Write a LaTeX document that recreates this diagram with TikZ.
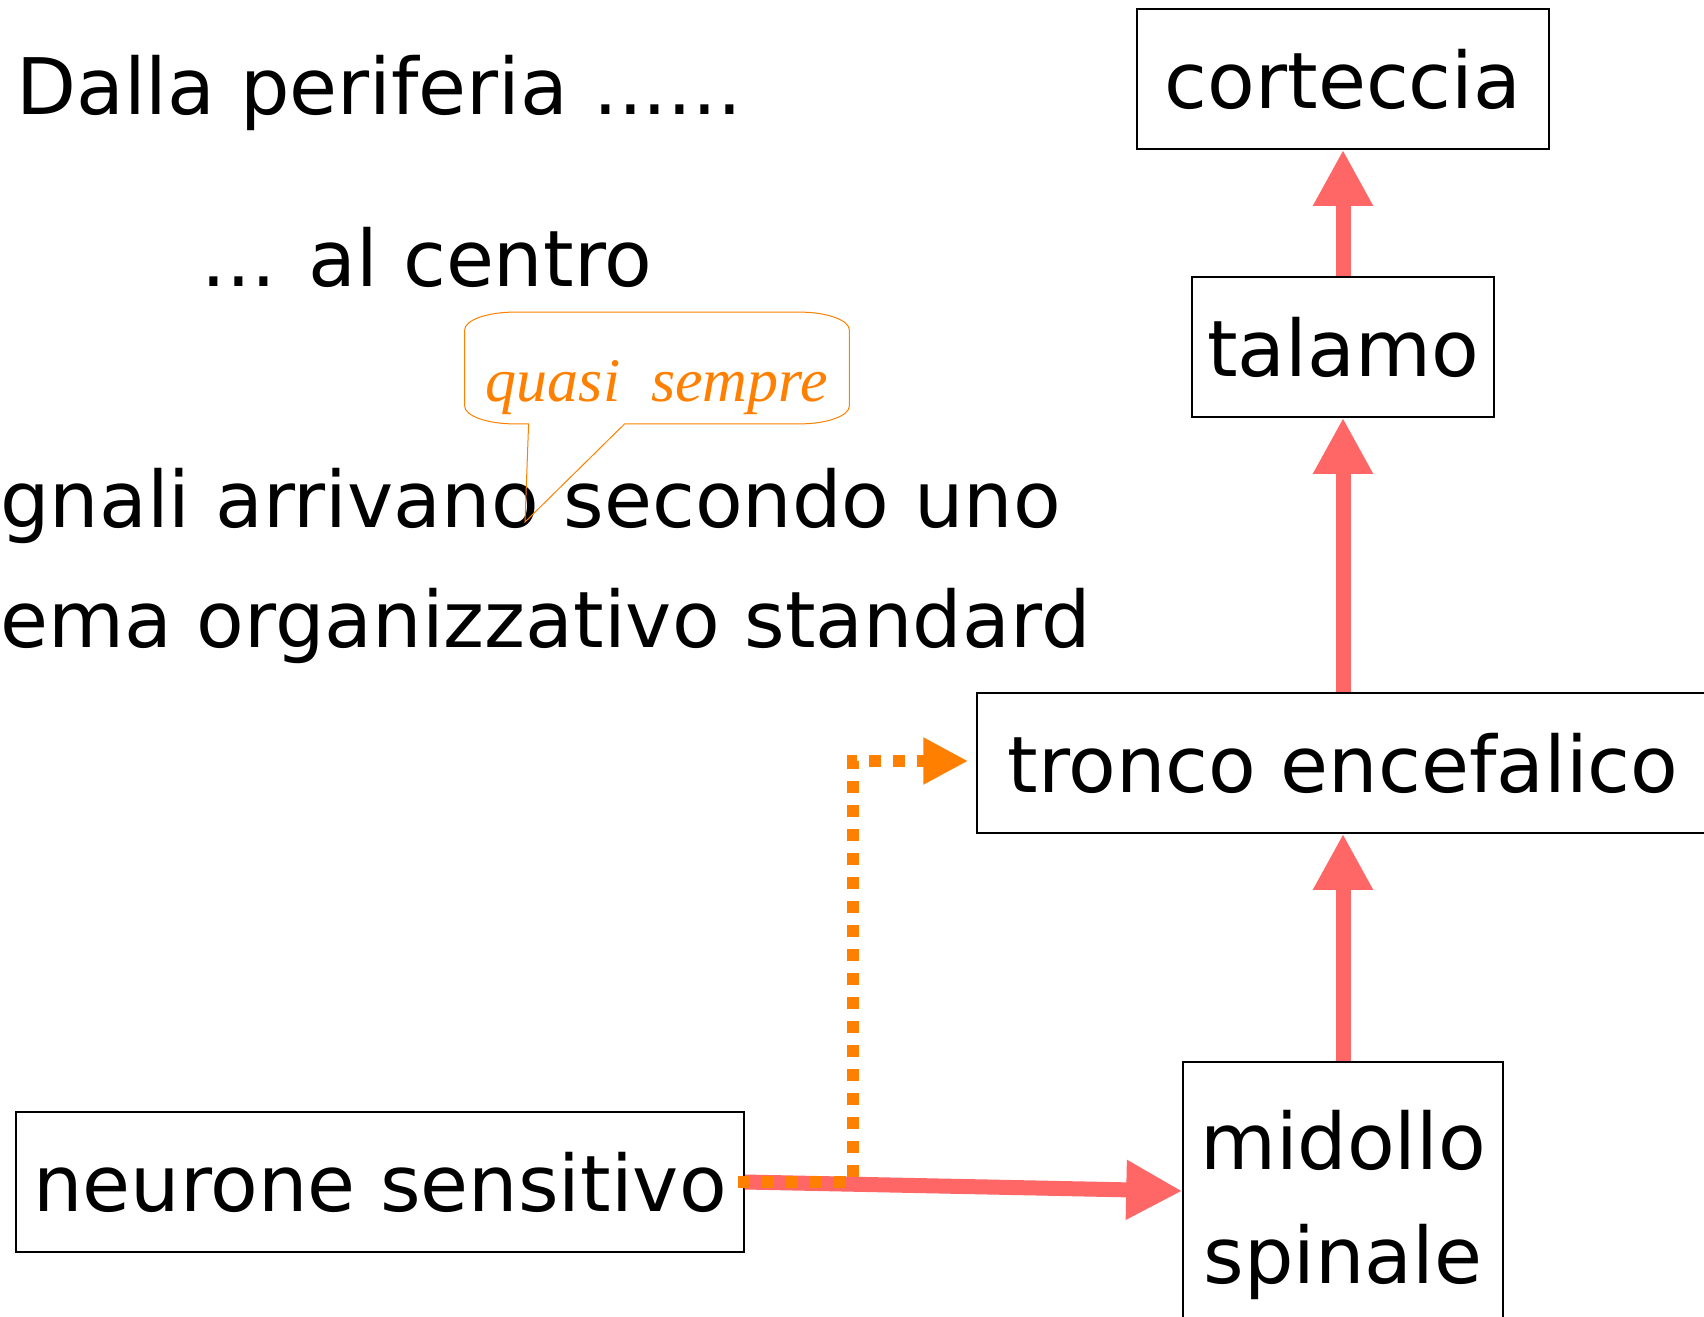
\documentclass[tikz,border=0pt]{standalone}
\usepackage{fontspec}
\setmainfont{DejaVu Sans}
\newfontfamily\notefont{Liberation Serif}
\usetikzlibrary{arrows.meta, positioning}
\definecolor{coral}{RGB}{255,102,102}
\definecolor{noteorange}{RGB}{255,128,0}

\begin{document}
\begin{tikzpicture}[
    x=0.5pt, y=-0.5pt,
    every node/.style={font=\fontsize{39}{57}\selectfont},
    area/.style={rectangle, draw, line width=0.75pt, minimum height=70pt, align=center, inner sep=0pt},
    bodytext/.style={anchor=base west, inner sep=0pt},
    note/.style={rectangle, inner sep=0pt, text=noteorange, font=\notefont\itshape\fontsize{31}{31}\selectfont},
    noteline/.style={draw=noteorange, line width=0.5pt},
    arrow/.style={-{Triangle[length=28pt, width=28pt]}, draw=coral, line width=7.5pt},
    dotarrow/.style={-{Triangle[length=22.5pt, width=22pt]}, draw=noteorange, line width=6pt, dash pattern=on 6pt off 6pt}
]
\useasboundingbox (0,0) rectangle (1704,1317);

\node[bodytext] (title) at (16,114) {Dalla periferia ......};
\node[bodytext] (subtitle) at (201,286) {... al centro};
\node[bodytext] (lineone) at (0,527) {gnali arrivano secondo uno};
\node[bodytext] (linetwo) at (0,647) {ema organizzativo standard};

% speech bubble
\node[note, minimum width=192pt, minimum height=55.5pt, text height=44.5pt, text depth=11pt] (almost) at (657,368) {quasi\ \ sempre};
\coordinate (tip) at (525,522);
\draw[noteline] ([xshift=32pt]almost.south west) -- ([xshift=25pt]almost.south west)
    arc[start angle=270, end angle=180, x radius=25pt, y radius=9pt] -- ([yshift=-9pt]almost.north west)
    arc[start angle=180, end angle=90, x radius=25pt, y radius=9pt] -- ([xshift=-25pt]almost.north east)
    arc[start angle=90, end angle=0, x radius=25pt, y radius=9pt] -- ([yshift=9pt]almost.south east)
    arc[start angle=0, end angle=-90, x radius=25pt, y radius=9pt] -- ([xshift=80pt]almost.south west)
    -- (tip) -- cycle;

\node[area, minimum width=206pt] (cortex) at (1343,79) {corteccia};
\node[area, minimum width=151pt] (thalamus) at (1343,347) {talamo};
\node[area, minimum width=366pt] (brainstem) at (1343,763) {tronco encefalico};
\node[area, minimum width=160pt, minimum height=143pt] (cord) at (1343,1205) {midollo\\spinale};
\node[area, minimum width=364pt] (neuron) at (380,1182) {neurone sensitivo};

\draw[arrow] (thalamus) -- (cortex);
\draw[arrow] (brainstem) -- (thalamus);
\draw[arrow] (cord) -- (brainstem);
\draw[arrow] (neuron.east) -- ([yshift=7pt]cord.west);

\coordinate (bend) at (853,761);
\draw[dotarrow] ([xshift=-3.5pt]neuron.east) -| (bend) -- ([xshift=-4pt]brainstem.west |- bend);

\end{tikzpicture}
\end{document}
